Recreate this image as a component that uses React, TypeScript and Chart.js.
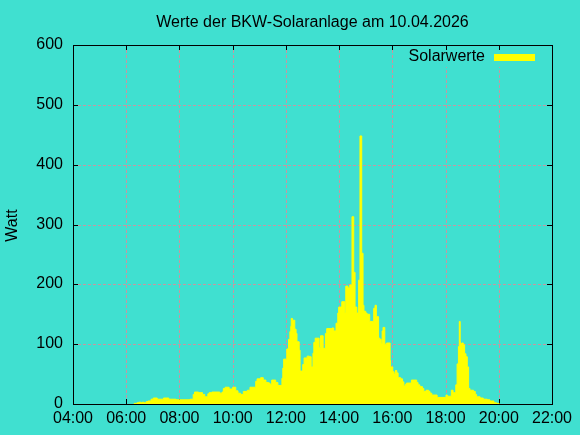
import { useEffect, useRef } from "react";
import { Chart, registerables } from "chart.js";

Chart.register(...registerables);

const TITLE = "Werte der BKW-Solaranlage am 10.04.2026";
const SERIES_LABEL = "Solarwerte";
const Y_TITLE = "Watt";
const X_TICK_LABELS = ["04:00", "06:00", "08:00", "10:00", "12:00", "14:00", "16:00", "18:00", "20:00", "22:00"];
const Y_TICKS = [0, 100, 200, 300, 400, 500, 600];

// Step series: each value holds from its time until the next time
const times = [
  "06:17", "06:24", "06:28", "06:33", "06:36", "06:40", "06:45", "06:49", "06:56", "07:01",
  "07:10", "07:24", "07:36", "07:52", "08:24", "08:31", "08:34", "08:43", "08:52", "08:57",
  "09:04", "09:07", "09:13", "09:31", "09:36", "09:39", "09:43", "09:52", "10:00", "10:07",
  "10:12", "10:18", "10:24", "10:33", "10:39", "10:52", "10:55", "11:03", "11:09", "11:15",
  "11:21", "11:24", "11:28", "11:37", "11:42", "11:51", "11:53", "11:55", "12:02", "12:06",
  "12:09", "12:11", "12:12", "12:15", "12:20", "12:23", "12:25", "12:30", "12:32", "12:38",
  "12:41", "12:48", "12:53", "12:57", "13:01", "13:03", "13:06", "13:15", "13:18", "13:24",
  "13:29", "13:32", "13:44", "13:48", "13:53", "13:57", "13:59", "14:06", "14:13", "14:15",
  "14:20", "14:24", "14:29", "14:33", "14:36", "14:40", "14:44", "14:47", "14:51", "14:54",
  "14:56", "15:00", "15:03", "15:09", "15:18", "15:21", "15:24", "15:29", "15:32", "15:35",
  "15:37", "15:39", "15:43", "15:47", "15:55", "15:56", "16:01", "16:04", "16:07", "16:10",
  "16:13", "16:19", "16:23", "16:26", "16:29", "16:32", "16:43", "16:55", "16:58", "17:02",
  "17:08", "17:11", "17:16", "17:22", "17:25", "17:29", "17:41", "18:01", "18:04", "18:13",
  "18:17", "18:23", "18:26", "18:29", "18:31", "18:33", "18:34", "18:37", "18:40", "18:43",
  "18:46", "18:49", "18:52", "18:55", "19:03", "19:07", "19:10", "19:18", "19:25", "19:34",
  "19:40", "19:49", "19:55", "20:01",
];
const watts = [
  1, 2, 3, 2, 3, 2, 4, 5, 8, 10,
  8, 10, 8, 7, 8, 16, 20, 19, 16, 12,
  17, 19, 20, 18, 20, 26, 28, 25, 28, 22,
  18, 16, 21, 23, 28, 38, 42, 44, 40, 36,
  35, 33, 40, 36, 31, 43, 60, 75, 92, 108,
  121, 130, 143, 140, 125, 118, 104, 90, 55, 66,
  77, 80, 79, 62, 85, 103, 110, 94, 114, 93,
  118, 126, 127, 122, 135, 152, 162, 171, 152, 197,
  194, 199, 313, 220, 162, 152, 207, 448, 252, 165,
  155, 152, 150, 138, 160, 165, 146, 110, 108, 101,
  122, 128, 100, 102, 73, 62, 54, 50, 56, 52,
  44, 42, 37, 30, 33, 35, 40, 36, 32, 29,
  26, 21, 23, 21, 18, 15, 11, 15, 13, 23,
  19, 32, 67, 96, 138, 104, 101, 102, 99, 84,
  79, 62, 26, 23, 21, 16, 12, 10, 8, 7,
  5, 2, 1, 0,
];

const BG = "#40e0d0";
const FONT = '16px "Liberation Sans", Arial, sans-serif';

const toHours = (s: string) => {
  const [h, m] = s.split(":").map(Number);
  return h + m / 60;
};

const framePlugin = {
  id: "gnuplotFrame",
  beforeDraw(chart: any) {
    const ctx = chart.ctx;
    ctx.save();
    ctx.fillStyle = BG;
    ctx.fillRect(0, 0, chart.width, chart.height);
    ctx.restore();
  },
  beforeDatasetsDraw(chart: any) {
    const ctx = chart.ctx;
    const { left, right, top, bottom } = chart.chartArea;
    const xs = chart.scales.x;
    const ys = chart.scales.y;
    ctx.save();
    // grid
    ctx.strokeStyle = "rgb(200,150,160)";
    ctx.lineWidth = 1;
    ctx.setLineDash([3, 2]);
    X_TICK_LABELS.forEach((lab) => {
      const px = Math.round(xs.getPixelForValue(toHours(lab))) + 0.5;
      if (px <= left + 1 || px >= right - 1) return;
      ctx.beginPath();
      ctx.moveTo(px, top);
      ctx.lineTo(px, bottom);
      ctx.stroke();
    });
    Y_TICKS.forEach((v) => {
      const py = Math.round(ys.getPixelForValue(v)) + 0.5;
      if (py <= top + 1 || py >= bottom - 1) return;
      ctx.beginPath();
      ctx.moveTo(left, py);
      ctx.lineTo(right, py);
      ctx.stroke();
    });
    ctx.setLineDash([]);
    // opaque key area
    ctx.fillStyle = BG;
    ctx.fillRect(400, 50, 145, 17);
    // inward ticks (mirrored)
    ctx.strokeStyle = "#000";
    const TL = 5;
    X_TICK_LABELS.forEach((lab) => {
      const px = Math.round(xs.getPixelForValue(toHours(lab))) + 0.5;
      ctx.beginPath();
      ctx.moveTo(px, bottom);
      ctx.lineTo(px, bottom - TL);
      ctx.moveTo(px, top);
      ctx.lineTo(px, top + TL);
      ctx.stroke();
    });
    Y_TICKS.forEach((v) => {
      const py = Math.round(ys.getPixelForValue(v)) + 0.5;
      ctx.beginPath();
      ctx.moveTo(left, py);
      ctx.lineTo(left + TL, py);
      ctx.moveTo(right, py);
      ctx.lineTo(right - TL, py);
      ctx.stroke();
    });
    ctx.restore();
  },
  afterDatasetsDraw(chart: any) {
    const ctx = chart.ctx;
    const { left, right, top, bottom } = chart.chartArea;
    const xs = chart.scales.x;
    const ys = chart.scales.y;
    ctx.save();
    ctx.strokeStyle = "#000";
    ctx.lineWidth = 1;
    ctx.strokeRect(Math.round(left) + 0.5, Math.round(top) + 0.5, Math.round(right - left), Math.round(bottom - top));

    ctx.fillStyle = "#000";
    ctx.font = FONT;
    ctx.textBaseline = "alphabetic";
    // y tick labels
    ctx.textAlign = "right";
    Y_TICKS.forEach((v) => {
      const py = ys.getPixelForValue(v);
      ctx.fillText(String(v), left - 10, py + 4);
    });
    // x tick labels
    ctx.textAlign = "center";
    X_TICK_LABELS.forEach((lab) => {
      const px = xs.getPixelForValue(toHours(lab));
      ctx.fillText(lab, px, bottom + 19);
    });
    // title
    ctx.fillText(TITLE, (left + right) / 2, 27);
    // y title
    ctx.save();
    ctx.translate(17, (top + bottom) / 2 + 1);
    ctx.rotate(-Math.PI / 2);
    ctx.textAlign = "center";
    ctx.fillText(Y_TITLE, 0, 0);
    ctx.restore();
    // legend
    ctx.textAlign = "left";
    ctx.fillText(SERIES_LABEL, 408.5, 61);
    ctx.fillStyle = "#ffff00";
    ctx.fillRect(494, 54, 41, 7);
    ctx.restore();
  },
};

export default function App() {
  const ref = useRef<HTMLCanvasElement | null>(null);
  useEffect(() => {
    document.body.style.margin = "0";
    const canvas = ref.current;
    if (!canvas) return;
    const points = times.map((t, i) => ({ x: toHours(t), y: watts[i] }));
    const chart = new Chart(canvas, {
      type: "line",
      data: {
        datasets: [
          {
            label: SERIES_LABEL,
            data: points,
            stepped: true,
            fill: "origin",
            backgroundColor: "#ffff00",
            borderColor: "#ffff00",
            borderWidth: 1,
            pointRadius: 0,
            tension: 0,
          },
        ],
      },
      options: {
        responsive: false,
        maintainAspectRatio: false,
        animation: false,
        devicePixelRatio: 1,
        events: [],
        layout: { padding: { left: 73, top: 45, right: 28, bottom: 31 } },
        plugins: { legend: { display: false }, tooltip: { enabled: false }, title: { display: false } },
        scales: {
          x: { type: "linear", min: 4, max: 22, display: false },
          y: { type: "linear", min: 0, max: 600, display: false },
        },
      },
      plugins: [framePlugin],
    });
    return () => chart.destroy();
  }, []);
  return (
    <div style={{ width: 580, height: 435, background: BG }}>
      <canvas ref={ref} width={580} height={435} style={{ display: "block", width: 580, height: 435 }} />
    </div>
  );
}
